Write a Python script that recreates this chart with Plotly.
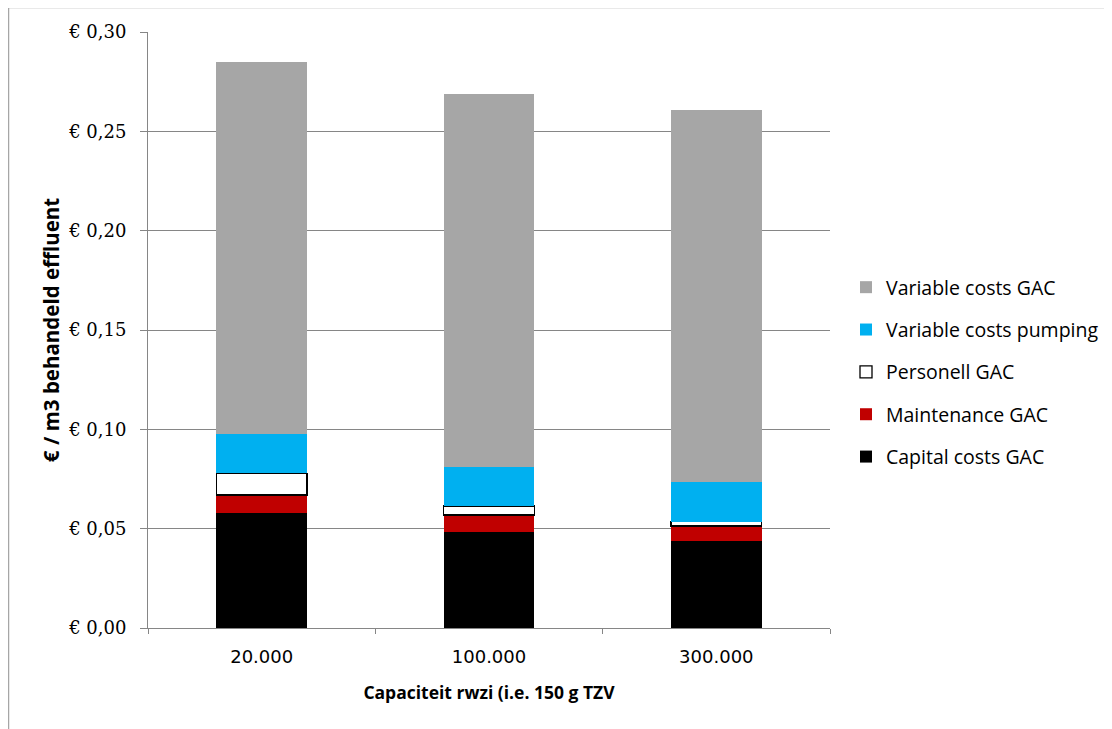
import plotly.graph_objects as go

categories = ["20.000", "100.000", "300.000"]
capital_costs = [0.0577, 0.0485, 0.0439]
maintenance = [0.0092, 0.0084, 0.0074]
personnel = [0.0110, 0.0045, 0.0022]
pumping = [0.0198, 0.0198, 0.0202]
variable_gac = [0.1874, 0.1876, 0.1869]

series_names = ["Capital costs GAC", "Maintenance GAC", "Personell GAC",
                "Variable costs pumping", "Variable costs GAC"]
series_values = [capital_costs, maintenance, personnel, pumping, variable_gac]
series_colors = ["#000000", "#C00000", "#FFFFFF", "#00B0F0", "#A6A6A6"]
y_ticks = [0, 0.05, 0.10, 0.15, 0.20, 0.25, 0.30]
y_tick_text = ["€ 0,00", "€ 0,05", "€ 0,10", "€ 0,15", "€ 0,20", "€ 0,25", "€ 0,30"]

fig = go.Figure()
n = len(series_names)
for i, (name, vals, col) in enumerate(zip(series_names, series_values, series_colors)):
    outline = name == "Personell GAC"
    fig.add_trace(go.Bar(
        x=categories, y=vals, name=name, legendgroup=name, legendrank=n - i,
        marker=dict(color=col,
                    line=dict(color="#000000" if outline else col, width=1.3 if outline else 0)),
        width=0.4,
    ))

W, H = 1112, 729
L, T = 140, 24
RIGHT, BOTTOM = 822, 620
R, B = W - RIGHT, H - BOTTOM
pw, ph = RIGHT - L, BOTTOM - T

fig.update_layout(
    width=W, height=H,
    barmode="stack",
    plot_bgcolor="white", paper_bgcolor="white",
    margin=dict(l=L, r=R, t=T, b=B, autoexpand=False),
    font=dict(family="DejaVu Sans", color="#000000"),
    legend=dict(
        x=(838 - L) / pw, y=(BOTTOM - 260) / ph, xanchor="left", yanchor="top",
        traceorder="grouped", tracegroupgap=14,
        font=dict(family="Open Sans", size=19.5, color="#000000"),
        itemwidth=30,
    ),
    xaxis=dict(
        type="category", showgrid=False, showline=True, linecolor="#868686", linewidth=1,
        ticks="outside", tickson="boundaries", ticklen=5, tickcolor="#868686",
        ticklabelstandoff=12,
        tickfont=dict(family="DejaVu Sans", size=18),
        title=dict(text="<b>Capaciteit rwzi (i.e. 150 g TZV</b>",
                   font=dict(family="Open Sans", size=17.5), standoff=21),
    ),
    yaxis=dict(
        range=[0, 0.30], tickvals=y_ticks, ticktext=y_tick_text,
        showgrid=True, gridcolor="#868686", gridwidth=1,
        showline=True, linecolor="#868686", linewidth=1,
        ticks="outside", ticklen=7, tickcolor="#868686",
        ticklabelstandoff=10,
        tickfont=dict(family="DejaVu Serif", size=18),
        zeroline=False,
        title=dict(text="<b>€ / m3 behandeld effluent</b>",
                   font=dict(family="Open Sans", size=20.5), standoff=2),
    ),
)

# outer chart border
fig.add_shape(type="rect", xref="paper", yref="paper",
              x0=(0.5 - L) / pw, x1=(1130 - L) / pw,
              y0=(BOTTOM - 760) / ph, y1=(BOTTOM + 0.5) / ph,
              line=dict(color="#A6A6A6", width=1.5), fillcolor="rgba(0,0,0,0)", layer="below")

fig.write_html("out.html")
